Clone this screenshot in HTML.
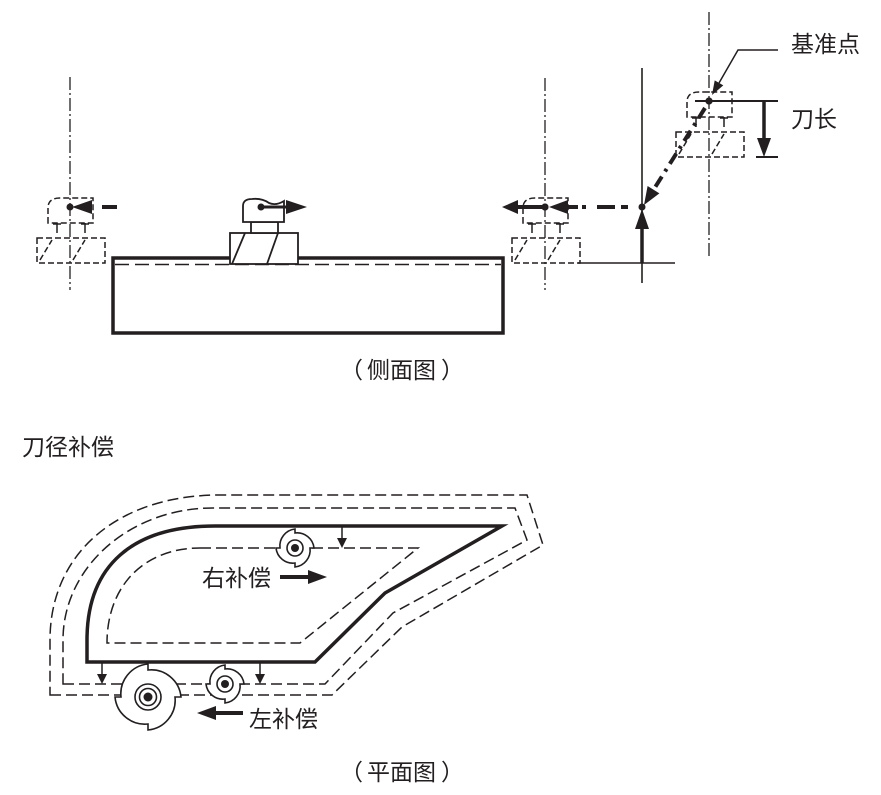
<!DOCTYPE html>
<html>
<head>
<meta charset="utf-8">
<style>
  html,body{margin:0;padding:0;background:#fff;}
  svg{display:block;}
  text{font-family:"Liberation Sans","Noto Sans CJK SC","WenQuanYi Zen Hei",sans-serif;font-size:23px;fill:#231f20;}
</style>
</head>
<body>
<svg width="881" height="795" viewBox="0 0 881 795" xmlns="http://www.w3.org/2000/svg">
  <defs>
    <g id="dtool" fill="none" stroke="#231f20" stroke-width="1.5">
      <path d="M-22,16 V1 Q-22,-9 -10,-9 H23 V16 Z" stroke-dasharray="6 3"/>
      <line x1="-13" y1="16" x2="-13" y2="26"/>
      <line x1="15" y1="16" x2="15" y2="26"/>
      <line x1="-17" y1="17" x2="-9" y2="17"/>
      <line x1="11" y1="17" x2="19" y2="17"/>
      <rect x="-33" y="31" width="68" height="25" stroke-dasharray="6 3"/>
      <line x1="-30" y1="53" x2="-18" y2="33" stroke-dasharray="6 3"/>
      <line x1="3" y1="53" x2="15" y2="33" stroke-dasharray="6 3"/>
      <circle cx="0" cy="0" r="3.5" fill="#231f20" stroke="none"/>
    </g>
  </defs>

  <!-- ===== Side view ===== -->
  <g stroke="#231f20" fill="none">
    <!-- centerlines -->
    <line x1="70" y1="77" x2="70" y2="290" stroke-width="1.3" stroke-dasharray="13 3 2 3"/>
    <line x1="545" y1="78" x2="545" y2="290" stroke-width="1.3" stroke-dasharray="13 3 2 3"/>
    <line x1="709" y1="12" x2="709" y2="258" stroke-width="1.3" stroke-dasharray="13 3 2 3"/>

    <!-- reference solid lines -->
    <line x1="642" y1="68" x2="642" y2="283" stroke-width="1.6"/>
    <line x1="578" y1="263" x2="675" y2="263" stroke-width="1.6"/>

    <!-- workpiece -->
    <rect x="113" y="258" width="390" height="75" stroke-width="3.5"/>
    <line x1="115" y1="264.5" x2="501" y2="264.5" stroke-width="1.5" stroke-dasharray="14 6"/>
  </g>

  <!-- dashed tools -->
  <use href="#dtool" x="70" y="207"/>
  <use href="#dtool" x="545" y="207"/>
  <use href="#dtool" x="709" y="101"/>

  <!-- solid middle tool -->
  <g stroke="#231f20" stroke-width="1.8" fill="#fff">
    <rect x="230" y="233" width="68" height="31"/>
    <rect x="251" y="222" width="27" height="11"/>
    <path d="M243,222 V206 Q243,199 252,199 Q262,198 269,203 Q276,206 284,201 V222 Z"/>
    <line x1="232" y1="264" x2="245" y2="233"/>
    <line x1="267" y1="264" x2="278" y2="233"/>
  </g>
  <circle cx="261" cy="207" r="3.5" fill="#231f20"/>
  <line x1="261" y1="207" x2="288" y2="207" stroke="#231f20" stroke-width="3"/>
  <polygon points="286,200 307,207 286,214" fill="#231f20"/>

  <!-- left tool arrow -->
  <polygon points="72,207 92,200 92,214" fill="#231f20"/>
  <line x1="102" y1="207" x2="117" y2="207" stroke="#231f20" stroke-width="4"/>

  <!-- horizontal dash-dot path from 642 to left -->
  <g stroke="#231f20" stroke-width="4">
    <line x1="566" y1="207" x2="578" y2="207"/>
    <line x1="582" y1="207" x2="586" y2="207"/>
    <line x1="597" y1="207" x2="615" y2="207"/>
    <line x1="621" y1="207" x2="628" y2="207"/>
    <line x1="516" y1="207" x2="543" y2="207"/>
  </g>
  <circle cx="642" cy="207" r="3.5" fill="#231f20"/>
  <circle cx="545" cy="207" r="3.5" fill="#231f20"/>
  <polygon points="549,207 568,200 568,214" fill="#231f20"/>
  <polygon points="502,207 518,200 518,214" fill="#231f20"/>

  <!-- diagonal dash-dot -->
  <line x1="705" y1="108" x2="654" y2="189" stroke="#231f20" stroke-width="4" stroke-dasharray="12 6 3 6"/>
  <polygon points="644,205 659.4,193.4 647.6,186" fill="#231f20"/>

  <!-- up arrow -->
  <line x1="642" y1="263" x2="642" y2="226" stroke="#231f20" stroke-width="3.5"/>
  <polygon points="642,209 635,229 649,229" fill="#231f20"/>

  <!-- tool length -->
  <line x1="695" y1="101" x2="778" y2="101" stroke="#231f20" stroke-width="2"/>
  <line x1="756" y1="157" x2="778" y2="157" stroke="#231f20" stroke-width="2"/>
  <line x1="764" y1="101" x2="764" y2="140" stroke="#231f20" stroke-width="3.5"/>
  <polygon points="757,138 771,138 764,157" fill="#231f20"/>
  <circle cx="709" cy="101" r="3.5" fill="#231f20"/>

  <!-- leader to 基准点 -->
  <polyline points="778,50 738,50 719,83" fill="none" stroke="#231f20" stroke-width="1.5"/>
  <polygon points="712,95 723.3,85.4 714.7,80.4" fill="#231f20"/>

  <text x="791" y="52">基准点</text>
  <text x="791" y="127">刀长</text>

  <text x="340" y="378">（</text>
  <text x="367" y="378">侧面图</text>
  <text x="441" y="378">）</text>

  <text x="22" y="455">刀径补偿</text>

  <!-- ===== Plan view ===== -->
  <g fill="none" stroke="#231f20">
    <path d="M50,695 H332 L402,627 L543,545 L527,495 H220 C118,495 50,553 50,640 Z" stroke-width="1.5" stroke-dasharray="11 5"/>
    <path d="M63,684 H325 L393,613 L527,540 L515,508 H213 C130,508 63,567 63,640 Z" stroke-width="1.5" stroke-dasharray="11 5"/>
    <path d="M200,548 H418 L300,643 H107 C107,586 144,548 200,548" stroke-width="1.5" stroke-dasharray="11 5"/>
    <path d="M215,526 H502 L385,593 L315,662 H87 V640 C87,566 132,526 215,526 Z" stroke-width="3.5" stroke-linejoin="miter"/>
  </g>

  <!-- small offset arrows -->
  <g stroke="#231f20" stroke-width="1.5">
    <line x1="342" y1="526" x2="342" y2="540"/>
    <line x1="102" y1="662" x2="102" y2="676"/>
    <line x1="260" y1="662" x2="260" y2="676"/>
  </g>
  <g fill="#231f20">
    <polygon points="337,538 347,538 342,548"/>
    <polygon points="97,674 107,674 102,684"/>
    <polygon points="255,674 265,674 260,684"/>
  </g>

  <!-- cutters -->
  <g stroke="#231f20" stroke-width="1.6" fill="#fff">
    <path d="M295,533 A17,17 0 0 1 314,548 L310,548 A17,17 0 0 1 295,567 L295,563 A17,17 0 0 1 276,548 L280,548 A17,17 0 0 1 295,529 Z"/>
    <path d="M225,669 A17,17 0 0 1 244,684 L240,684 A17,17 0 0 1 225,703 L225,699 A17,17 0 0 1 206,684 L210,684 A17,17 0 0 1 225,665 Z"/>
    <path d="M148,670 A30,30 0 0 1 181,697 L175,697 A30,30 0 0 1 148,730 L148,724 A30,30 0 0 1 115,697 L121,697 A30,30 0 0 1 148,664 Z"/>
    <circle cx="295" cy="548" r="8"/>
    <circle cx="225" cy="684" r="8"/>
    <circle cx="148" cy="697" r="13"/>
    <circle cx="148" cy="697" r="8.5"/>
  </g>
  <g fill="#231f20">
    <circle cx="295" cy="548" r="4"/>
    <circle cx="225" cy="684" r="4"/>
    <circle cx="148" cy="697" r="4.5"/>
  </g>

  <!-- compensation arrows -->
  <line x1="280" y1="577" x2="310" y2="577" stroke="#231f20" stroke-width="4"/>
  <polygon points="308,570 327,577 308,584" fill="#231f20"/>
  <line x1="243" y1="713" x2="214" y2="713" stroke="#231f20" stroke-width="4"/>
  <polygon points="216,706 197,713 216,720" fill="#231f20"/>

  <text x="202" y="586">右补偿</text>
  <text x="249" y="727">左补偿</text>

  <text x="340" y="780">（</text>
  <text x="367" y="780">平面图</text>
  <text x="441" y="780">）</text>
</svg>
</body>
</html>
